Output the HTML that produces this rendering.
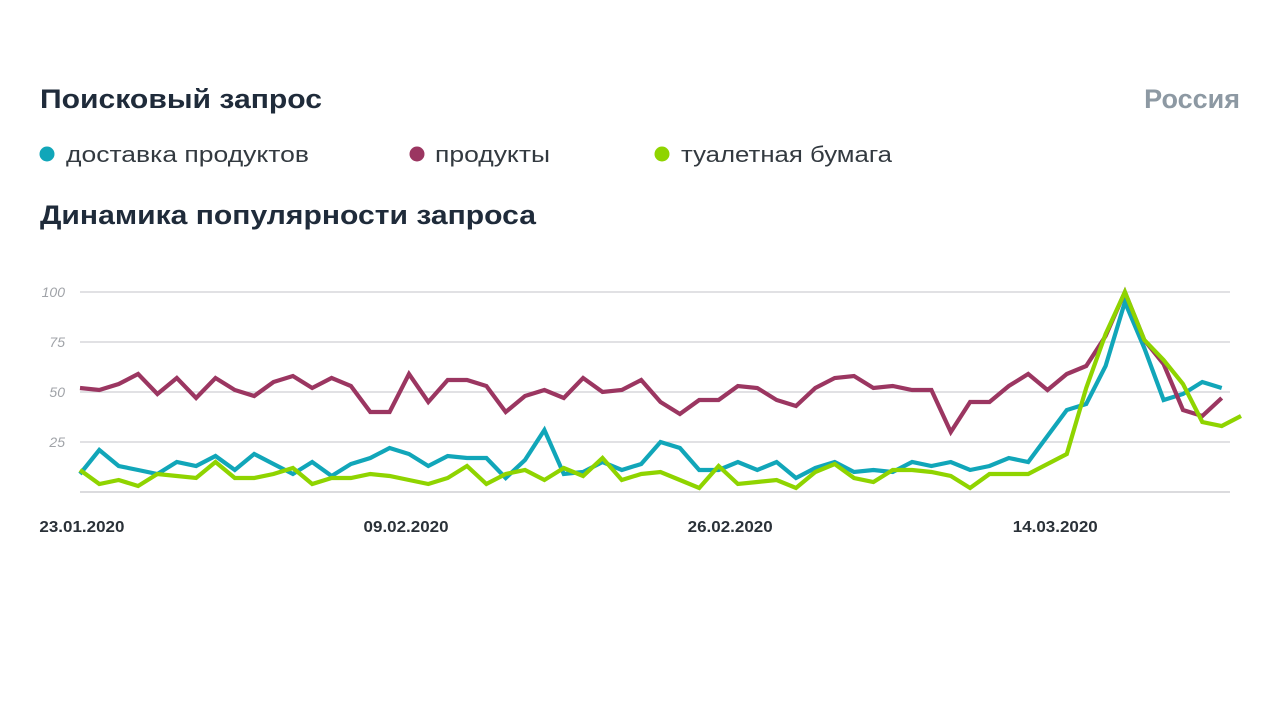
<!DOCTYPE html>
<html><head><meta charset="utf-8"><style>
html,body{margin:0;padding:0;background:#fff;}
svg{display:block;font-family:"Liberation Sans","DejaVu Sans",sans-serif;}
</style></head><body>
<svg id="chart" width="1280" height="720" viewBox="0 0 1280 720">
  <text x="40" y="108" font-size="27" font-weight="bold" fill="#1f2b3a" textLength="282" lengthAdjust="spacingAndGlyphs">Поисковый запрос</text>
  <text x="1240" y="108" font-size="27" font-weight="bold" fill="#8d99a3" text-anchor="end">Россия</text>
  <g>
    <g>
      <circle cx="47" cy="154" r="7.5" fill="#11a6b9"/>
      <text x="66" y="162" font-size="22" fill="#333a40" textLength="243" lengthAdjust="spacingAndGlyphs">доставка продуктов</text>
    </g>
    <g>
      <circle cx="417" cy="154" r="7.5" fill="#9b3661"/>
      <text x="435" y="162" font-size="22" fill="#333a40" textLength="115" lengthAdjust="spacingAndGlyphs">продукты</text>
    </g>
    <g>
      <circle cx="662" cy="154" r="7.5" fill="#8fd400"/>
      <text x="681" y="162" font-size="22" fill="#333a40" textLength="211" lengthAdjust="spacingAndGlyphs">туалетная бумага</text>
    </g>
  </g>
  <text x="40" y="224" font-size="27" font-weight="bold" fill="#1f2b3a" textLength="496" lengthAdjust="spacingAndGlyphs">Динамика популярности запроса</text>
  <g id="grid"></g>
  <g id="yticks"></g>
  <g id="xticks"></g>
  <g id="series"></g>
</svg>
<script>
const yTicks = [25, 50, 75, 100];
const xTickLabels = ["23.01.2020", "09.02.2020", "26.02.2020", "14.03.2020"];
const xTickIndex = [0.1, 16.85, 33.6, 50.4];
const delivery = [9,21,13,11,9,15,13,18,11,19,14,9,15,8,14,17,22,19,13,18,17,17,7,16,31,9,10,15,11,14,25,22,11,11,15,11,15,7,12,15,10,11,10,15,13,15,11,13,17,15,28,41,44,63,95,72,46,49,55,52];
const products = [52,51,54,59,49,57,47,57,51,48,55,58,52,57,53,40,40,59,45,56,56,53,40,48,51,47,57,50,51,56,45,39,46,46,53,52,46,43,52,57,58,52,53,51,51,30,45,45,53,59,51,59,63,78,100,76,64,41,38,47];
const toilet = [11,4,6,3,9,8,7,15,7,7,9,12,4,7,7,9,8,6,4,7,13,4,9,11,6,12,8,17,6,9,10,6,2,13,4,5,6,2,10,14,7,5,11,11,10,8,2,9,9,9,14,19,52,79,100,76,66,54,35,33,38];
const seriesColors = ["#11a6b9", "#9b3661", "#8fd400"];

const NS = "http://www.w3.org/2000/svg";
const X0 = 80, STEP = 19.35, Y0 = 492, YS = 2;
const xPos = i => X0 + i * STEP;
const yPos = v => Y0 - v * YS;

const grid = document.getElementById('grid');
const base = document.createElementNS(NS, 'line');
base.setAttribute('x1', 80); base.setAttribute('x2', 1230);
base.setAttribute('y1', yPos(0)); base.setAttribute('y2', yPos(0));
base.setAttribute('stroke', '#cfcfd3'); base.setAttribute('stroke-width', 1.5);


grid.appendChild(base);

const yg = document.getElementById('yticks');
yTicks.forEach(t => {
  const l = document.createElementNS(NS, 'line');
  l.setAttribute('x1', 80); l.setAttribute('x2', 1230);
  l.setAttribute('y1', yPos(t)); l.setAttribute('y2', yPos(t));
  l.setAttribute('stroke', '#cfcfd3'); l.setAttribute('stroke-width', 1.2);
  
  
  grid.appendChild(l);
  const tx = document.createElementNS(NS, 'text');
  tx.setAttribute('x', 65); tx.setAttribute('y', yPos(t) + 5);
  tx.setAttribute('text-anchor', 'end'); tx.setAttribute('font-size', 14);
  tx.setAttribute('font-style', 'italic'); tx.setAttribute('fill', '#a0a3a8');
  
  
  tx.textContent = t;
  yg.appendChild(tx);
});

const xg = document.getElementById('xticks');
xTickLabels.forEach((lab, k) => {
  const tx = document.createElementNS(NS, 'text');
  tx.setAttribute('x', xPos(xTickIndex[k])); tx.setAttribute('y', 532);
  tx.setAttribute('text-anchor', 'middle'); tx.setAttribute('font-size', 16);
  tx.setAttribute('font-weight', 'bold'); tx.setAttribute('fill', '#2a3138');
  tx.setAttribute('textLength', 85); tx.setAttribute('lengthAdjust', 'spacingAndGlyphs');
  
  
  tx.textContent = lab;
  xg.appendChild(tx);
});

const sg = document.getElementById('series');
const names = ['line-delivery', 'line-products', 'line-toilet-paper'];
[delivery, products, toilet].forEach((arr, s) => {
  const p = document.createElementNS(NS, 'polyline');
  p.setAttribute('points', arr.map((v, i) => xPos(i).toFixed(1) + ',' + yPos(v).toFixed(1)).join(' '));
  p.setAttribute('fill', 'none');
  p.setAttribute('stroke', seriesColors[s]);
  p.setAttribute('stroke-width', 4.2);
  p.setAttribute('stroke-linejoin', 'miter');
  
  
  sg.appendChild(p);
});
</script>
</body></html>
